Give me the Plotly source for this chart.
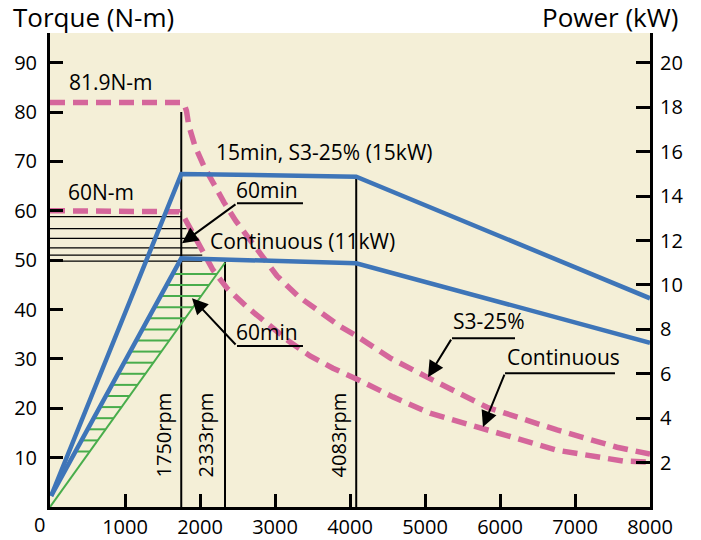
import plotly.graph_objects as go

# ---------------- data ----------------
x_ticks = [1000, 2000, 3000, 4000, 5000, 6000, 7000, 8000]
torque_ticks = [10, 20, 30, 40, 50, 60, 70, 80, 90]
power_ticks = [2, 4, 6, 8, 10, 12, 14, 16, 18, 20]

# torque curves (N-m, left axis)
rpm_s3_t = [0, 1760, 1790, 1820, 1850, 1933, 2053, 2173, 2320, 2480, 2747, 3027, 3307, 3600,
            3867, 4093, 4533, 5027, 5827, 6760, 7560, 8000]
torque_s3 = [81.9, 81.9, 81.5, 80.2, 77.3, 73.1, 69.0, 65.6, 61.7, 57.9, 52.4, 46.8, 42.7, 39.5,
             36.6, 34.6, 30.2, 26.3, 20.2, 15.6, 12.1, 10.7]
rpm_cont_t = [0, 1680, 1720, 1773, 1867, 2000, 2173, 2360, 2627, 2893, 3200, 3467, 3773,
              4093, 4573, 5067, 5827, 6760, 7640, 8000]
torque_cont = [60.0, 60.0, 59.8, 59.1, 56.5, 52.8, 48.0, 44.3, 40.5, 37.2, 33.4, 30.6, 28.1,
               25.9, 22.3, 19.0, 15.6, 11.5, 9.3, 9.1]

# power curves (kW, right axis)
rpm_s3_p = [15, 1750, 4083, 8000]
power_s3 = [0.5, 15.0, 14.88, 9.4]
rpm_cont_p = [15, 1750, 4083, 8000]
power_cont = [0.5, 11.2, 10.98, 7.4]
rpm_60_p = [0, 2333]
power_60 = [0.0, 11.0]

# vertical speed markers
marker_rpm = [1750, 2333, 4083]
marker_top_torque = [80.0, 49.6, 66.8]
marker_labels = ["1750rpm", "2333rpm", "4083rpm"]
marker_label_rpm = [1507, 2067, 3840]

# 60 min torque hatch (black) : torque levels and right ends
hatch_t_levels = [58.8, 56.4, 54.4, 52.5, 51.0, 49.8]
hatch_t_end_rpm = [1750, 1820, 1880, 1970, 2030, 2030]

# 60 min power hatch (green) : kW levels
hatch_p_levels = [2.5, 3.0, 3.5, 4.0, 4.5, 5.0, 5.5, 6.0, 6.5, 7.0, 7.5, 8.0,
                  8.5, 9.0, 9.5, 10.0, 10.5]

# text labels (rpm, torque)
labels = [
    ("81.9N-m", 813, 86.0),
    ("15min, S3-25% (15kW)", 3653, 71.9),
    ("60N-m", 680, 63.8),
    ("60min", 2893, 64.2),
    ("Continuous (11kW)", 3367, 53.8),
    ("60min", 2893, 35.4),
    ("S3-25%", 5853, 37.7),
    ("Continuous", 6853, 30.4),
]
# callouts: (corner rpm, corner torque, end rpm, tip rpm, tip torque)
callouts = [
    (2493, 61.5, 3373, 1760, 53.4),
    (2493, 32.6, 3373, 1893, 42.3),
    (5360, 34.2, 6200, 5040, 26.3),
    (6067, 27.1, 7533, 5773, 16.2),
]

# ---------------- styles ----------------
PINK = "#D5669B"
BLUE = "#3E75B8"
GREEN = "#48AD4B"
BG = "#F4EFD7"
FONT = "Open Sans"

fig = go.Figure()

# black torque hatch
hx, hy = [], []
for lvl, end in zip(hatch_t_levels, hatch_t_end_rpm):
    hx += [0, end, None]
    hy += [lvl, lvl, None]
fig.add_trace(go.Scatter(x=hx, y=hy, mode="lines", line=dict(color="black", width=1.3),
                         hoverinfo="skip", showlegend=False))

# green power hatch: between rising continuous blue line and green line
x0, y0 = rpm_cont_p[0], power_cont[0]
x1, y1 = rpm_cont_p[1], power_cont[1]
gx, gy = [], []
for k in hatch_p_levels:
    xl = x0 + (k - y0) / (y1 - y0) * (x1 - x0)
    xr = rpm_60_p[0] + (k - power_60[0]) / (power_60[1] - power_60[0]) * (rpm_60_p[1] - rpm_60_p[0])
    gx += [xl, xr, None]
    gy += [k, k, None]
fig.add_trace(go.Scatter(x=gx, y=gy, yaxis="y2", mode="lines", line=dict(color=GREEN, width=2),
                         hoverinfo="skip", showlegend=False))

# green 60 min power line
fig.add_trace(go.Scatter(x=rpm_60_p, y=power_60, yaxis="y2", mode="lines",
                         line=dict(color=GREEN, width=2), showlegend=False))

# vertical markers
for r, top in zip(marker_rpm, marker_top_torque):
    fig.add_trace(go.Scatter(x=[r, r], y=[0, top], mode="lines",
                             line=dict(color="black", width=2), showlegend=False))

# pink torque curves
fig.add_trace(go.Scatter(x=rpm_s3_t, y=torque_s3, mode="lines",
                         line=dict(color=PINK, width=5.5, dash="15px,8px"),
                         showlegend=False))
fig.add_trace(go.Scatter(x=rpm_cont_t, y=torque_cont, mode="lines",
                         line=dict(color=PINK, width=5.5, dash="15px,8px"),
                         showlegend=False))

# blue power curves
fig.add_trace(go.Scatter(x=rpm_s3_p, y=power_s3, yaxis="y2", mode="lines",
                         line=dict(color=BLUE, width=4.5), showlegend=False))
fig.add_trace(go.Scatter(x=rpm_cont_p, y=power_cont, yaxis="y2", mode="lines",
                         line=dict(color=BLUE, width=4.5), showlegend=False))

annotations = []
for txt, xr, yt in labels:
    annotations.append(dict(x=xr, y=yt, xref="x", yref="y", text=txt, showarrow=False,
                            font=dict(family=FONT, size=21, color="black")))
for txt, xr in zip(marker_labels, marker_label_rpm):
    annotations.append(dict(x=xr, y=14.5, xref="x", yref="y", text=txt, showarrow=False,
                            textangle=-90, font=dict(family=FONT, size=20, color="black")))

shapes = []
for cx, cy, ex, tx, ty in callouts:
    shapes.append(dict(type="line", xref="x", yref="y", x0=cx, y0=cy, x1=ex, y1=cy,
                       line=dict(color="black", width=2)))
    annotations.append(dict(x=tx, y=ty, xref="x", yref="y", ax=cx, ay=cy, axref="x", ayref="y",
                            text="", showarrow=True, arrowhead=2, arrowsize=1.6, arrowwidth=2,
                            arrowcolor="black"))

# axis titles and the zero label
annotations.append(dict(x=0.0733, y=1.034, xref="paper", yref="paper", text="Torque (N-m)",
                        showarrow=False, xanchor="center", yanchor="middle",
                        font=dict(family=FONT, size=26, color="black")))
annotations.append(dict(x=0.9333, y=1.034, xref="paper", yref="paper", text="Power (kW)",
                        showarrow=False, xanchor="center", yanchor="middle",
                        font=dict(family=FONT, size=26, color="black")))
annotations.append(dict(x=0, y=-0.036, xref="x", yref="paper", text="0", showarrow=False,
                        xshift=-11, yanchor="middle",
                        font=dict(family=FONT, size=20, color="black")))

axis_common = dict(ticks="inside", tickwidth=3, tickcolor="black", showline=True, linewidth=3,
                   linecolor="black", showgrid=False, zeroline=False, automargin=False,
                   tickfont=dict(family=FONT, size=20, color="black"))

fig.update_layout(
    width=701, height=540,
    margin=dict(l=50, r=51, t=33, b=33, autoexpand=False),
    paper_bgcolor="white",
    plot_bgcolor=BG,
    showlegend=False,
    font=dict(family=FONT, size=20, color="black"),
    xaxis=dict(range=[0, 8000], tickvals=x_ticks, ticklen=13, **axis_common),
    yaxis=dict(range=[0, 96], tickvals=torque_ticks, ticklen=13, ticklabelstandoff=6, **axis_common),
    yaxis2=dict(range=[0, 21.35], tickvals=power_ticks, overlaying="y", side="right",
                ticklen=14, ticklabelstandoff=3, **axis_common),
    annotations=annotations,
    shapes=shapes,
)

fig.write_html("out.html", config={"displayModeBar": False},
               post_script="document.body.style.margin='0';document.body.style.overflow='hidden';")
